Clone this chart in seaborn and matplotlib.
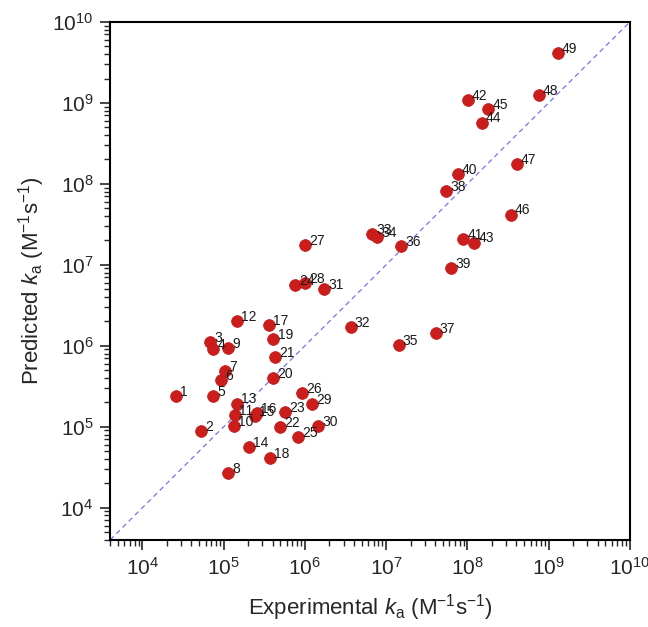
import numpy as np
import pandas as pd
import matplotlib
matplotlib.use('Agg')
import matplotlib.pyplot as plt
from matplotlib.ticker import LogLocator, NullFormatter
import seaborn as sns

# Compound numbers and rate constants (M^-1 s^-1)
compound_ids = list(range(1, 50))
experimental_ka = [
    2.56e4, 5.3e4, 6.8e4, 7.4e4, 7.4e4, 9.2e4, 1.03e5, 1.13e5, 1.13e5, 1.33e5,
    1.36e5, 1.44e5, 1.44e5, 2.06e5, 2.40e5, 2.59e5, 3.56e5, 3.70e5, 4.10e5, 4.10e5,
    4.26e5, 4.90e5, 5.65e5, 7.5e5, 8.2e5, 9.1e5, 9.95e5, 1.01e6, 1.22e6, 1.44e6,
    1.72e6, 3.66e6, 6.7e6, 7.8e6, 1.42e7, 1.52e7, 4.05e7, 5.43e7, 6.25e7, 7.6e7,
    8.9e7, 1.01e8, 1.21e8, 1.50e8, 1.81e8, 3.41e8, 4.05e8, 7.6e8, 1.29e9,
]
predicted_ka = [
    2.40e5, 8.9e4, 1.11e6, 9.2e5, 2.40e5, 3.8e5, 4.9e5, 2.67e4, 9.3e5, 1.02e5,
    1.40e5, 2.0e6, 1.93e5, 5.6e4, 1.36e5, 1.47e5, 1.79e6, 4.05e4, 1.20e6, 4.0e5,
    7.2e5, 9.8e4, 1.50e5, 5.6e6, 7.4e4, 2.59e5, 1.77e7, 6.0e6, 1.90e5, 1.02e5,
    5.0e6, 1.70e6, 2.42e7, 2.22e7, 1.01e6, 1.69e7, 1.42e6, 8.2e7, 9.0e6, 1.31e8,
    2.10e7, 1.08e9, 1.88e7, 5.7e8, 8.3e8, 4.17e7, 1.77e8, 1.26e9, 4.17e9,
]
axis_limits = [4.0e3, 1.0e10]

df = pd.DataFrame({'id': compound_ids, 'exp': experimental_ka, 'pred': predicted_ka})

sns.set_style('white')
plt.rcParams['font.family'] = ['Liberation Sans', 'DejaVu Sans']
plt.rcParams['mathtext.fontset'] = 'custom'
plt.rcParams['mathtext.rm'] = 'Liberation Sans'
plt.rcParams['mathtext.it'] = 'Liberation Sans:italic'

fig = plt.figure(figsize=(6.48, 6.27), dpi=100)
ax = fig.add_axes([0.170, 0.139, 0.802, 0.826])

# y = x reference line
ax.plot(axis_limits, axis_limits, color='#7474f7', linestyle='--', linewidth=0.9,
        dashes=(4, 3), zorder=1)

sns.scatterplot(data=df, x='exp', y='pred', ax=ax, color='#cc1d1d', s=72,
                edgecolor='#c01818', linewidth=0.5, zorder=3)

for _, row in df.iterrows():
    ax.annotate(str(int(row['id'])), (row['exp'], row['pred']), xytext=(3, 3),
                textcoords='offset points', ha='left', va='center',
                fontsize=10, color='#1a1a1a', zorder=4)

ax.set_xscale('log')
ax.set_yscale('log')
ax.set_xlim(axis_limits)
ax.set_ylim(axis_limits)

for axis in [ax.xaxis, ax.yaxis]:
    axis.set_major_locator(LogLocator(base=10, numticks=12))
    axis.set_minor_locator(LogLocator(base=10, subs=np.arange(2, 10), numticks=12))
    axis.set_minor_formatter(NullFormatter())

ax.tick_params(which='major', direction='out', length=7, width=1.2, labelsize=15,
               bottom=True, left=True, top=False, right=False, pad=5)
ax.tick_params(which='minor', direction='out', length=4, width=1.0,
               bottom=True, left=True, top=False, right=False)

for spine in ax.spines.values():
    spine.set_color('black')
    spine.set_linewidth(1.5)

ax.set_xlabel('Experimental $\\mathit{k}_\\mathrm{a}$ (M$^{-1}$s$^{-1}$)', fontsize=16, labelpad=10)
ax.set_ylabel('Predicted $\\mathit{k}_\\mathrm{a}$ (M$^{-1}$s$^{-1}$)', fontsize=16, labelpad=4)
ax.grid(False)

plt.savefig('out.png', dpi=100)
plt.close()
